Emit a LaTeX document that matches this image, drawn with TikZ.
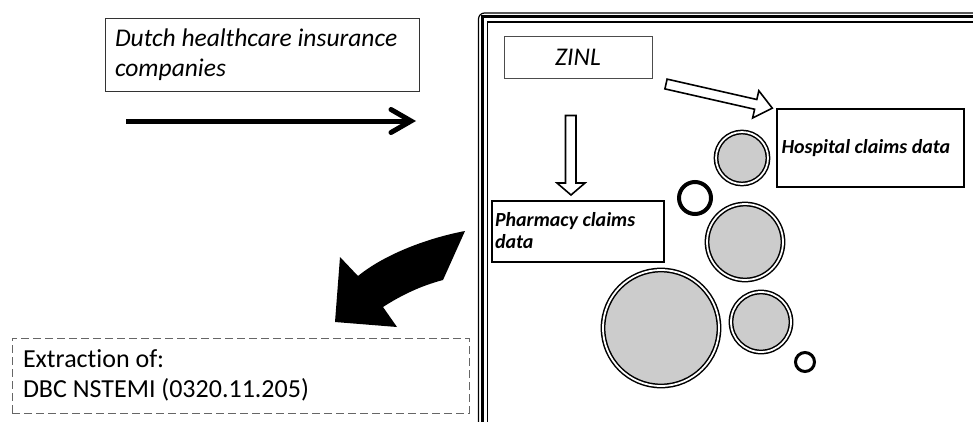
\documentclass[tikz,border=0pt]{standalone}
\usepackage{fontspec}
\setmainfont{Carlito}[Ligatures=NoCommon]
\usetikzlibrary{calc}
\begin{document}
\begin{tikzpicture}[x=1pt,y=-1pt,
  thinbox/.style={draw=black!80, line width=0.8pt, rectangle, inner sep=0pt},
  boldbox/.style={draw=black, line width=2pt, rectangle, inner sep=0pt},
  dashbox/.style={draw=black!60, line width=1pt, dash pattern=on 8pt off 4pt, rectangle, inner sep=0pt},
  bubble/.style={circle, draw=black, line width=1.5pt, double=white, double distance=1.8pt, fill=black!20, inner sep=0pt},
  ring/.style={circle, draw=black, fill=white, inner sep=0pt},
  hollowarrow/.style={draw=black, line width=1.6pt, fill=white, line join=miter},
]
\clip (0,0) rectangle (973,421);
\useasboundingbox (0,0) rectangle (973,421);

% big frame (extends past the right and bottom edges)
\draw[line width=1.2pt, rounded corners=6pt] (478.5,13) rectangle (1000,450);
\draw[line width=3.2pt] (482.2,16.7) rectangle (1000,450);
\draw[line width=1.6pt] (487.5,22) rectangle (1000,450);

% insurance companies
\node[thinbox, minimum width=314pt, minimum height=73pt, text width=294pt, align=flush left,
      font=\fontsize{25.5}{30}\selectfont\itshape] (ins) at (262,54.5)
      {Dutch healthcare insurance\\companies};
\coordinate (insA) at (126,121);
\coordinate (insB) at (411,121);
\draw[line width=5pt] (insA) -- (insB);
\draw[line width=5pt, line cap=round, line join=miter] ($(insB)+(-20,-11.5)$) -- (insB) -- ($(insB)+(-20,11.5)$);

% ZINL
\node[draw=black!70, line width=0.8pt, rectangle, minimum width=148pt, minimum height=42pt,
      font=\fontsize{25.5}{30}\selectfont\itshape] (zinl) at (578,57) {ZINL};

% hollow diagonal arrow
\begin{scope}[shift={(666,84)}, rotate=-12.8]
  \draw[hollowarrow] (0,-5) -- (92,-5) -- (92,-14) -- (109,0) -- (92,14) -- (92,5) -- (0,5) -- cycle;
\end{scope}

% hollow vertical arrow
\draw[hollowarrow] (565.5,115.5) -- (576,115.5) -- (576,183) -- (585,183) -- (571,195) -- (557,183) -- (565.5,183) -- cycle;

% Hospital claims data
\node[boldbox, minimum width=187pt, minimum height=78pt, text width=178pt, align=flush left,
      font=\fontsize{20}{23}\selectfont\bfseries\itshape] (hosp) at (870.5,148) {Hospital claims data};

% Pharmacy claims data
\node[boldbox, minimum width=172pt, minimum height=61pt, text width=166pt, align=flush left,
      font=\fontsize{20}{22}\selectfont\bfseries\itshape] (pharm) at (578,231) {Pharmacy claims\\data};

% bubbles
\node[bubble, minimum size=52pt] (b1) at (742,158) {};
\node[bubble, minimum size=76pt] (b2) at (745,242) {};
\node[bubble, minimum size=116pt] (b3) at (661,328) {};
\node[bubble, minimum size=60pt] (b4) at (761,322) {};
\node[ring, line width=4pt, minimum size=32pt] (r1) at (695,198) {};
\node[ring, line width=3pt, minimum size=19pt] (r2) at (805,362) {};

% big curved black arrow
\fill[black] (465,231) .. controls (428,238) and (385,254) .. (358,276)
   -- (340,257) -- (335,322) -- (397,327) -- (383,307)
   .. controls (400,296) and (420,286) .. (443,280) -- cycle;

% extraction
\node[dashbox, minimum width=457pt, minimum height=75pt, text width=435pt, align=flush left,
      font=\fontsize{26}{30}\selectfont] (ext) at (240.5,375.5)
      {Extraction of:\\DBC NSTEMI (0320.11.205)};
\end{tikzpicture}
\end{document}
